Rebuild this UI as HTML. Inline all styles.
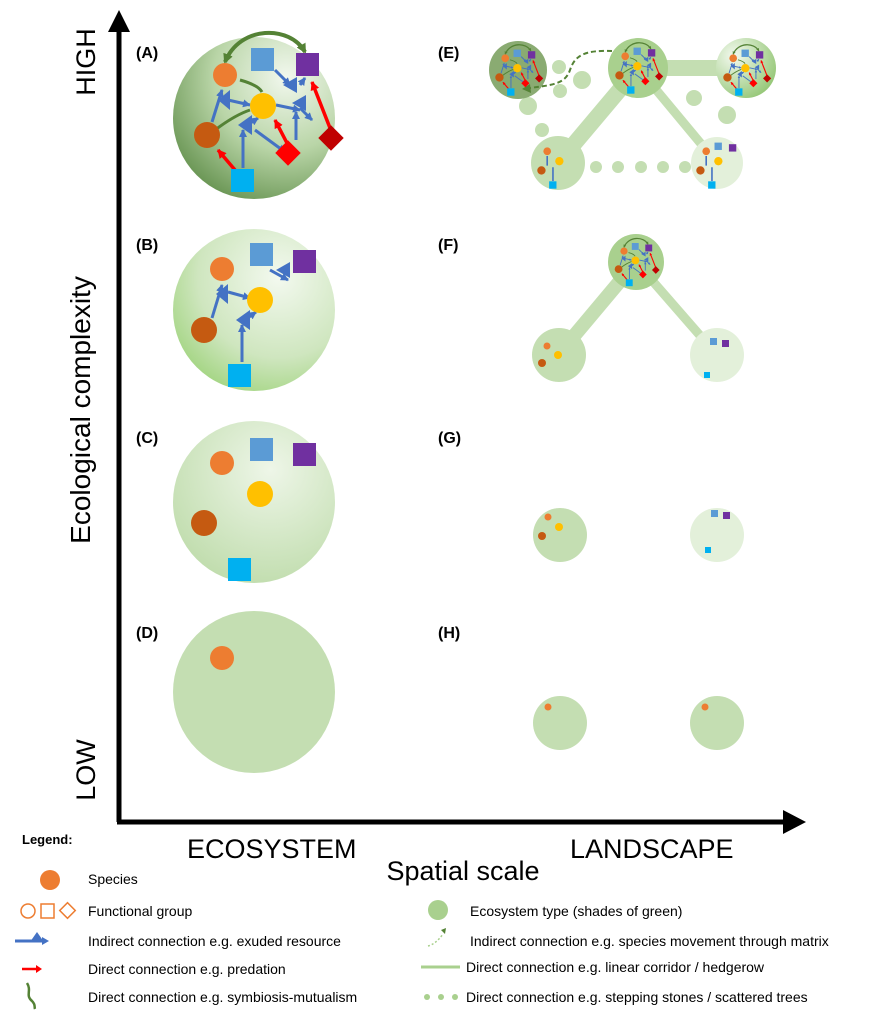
<!DOCTYPE html>
<html><head><meta charset="utf-8"><style>body{margin:0;background:#fff}svg{display:block}text{font-family:"Liberation Sans",sans-serif}</style></head>
<body>
<svg width="876" height="1023" viewBox="0 0 876 1023" xmlns="http://www.w3.org/2000/svg">
<defs>
<radialGradient id="gA" cx="0.7" cy="0.25" r="0.9"><stop offset="0" stop-color="#f2f8ee"/><stop offset="0.5" stop-color="#b9d5a7"/><stop offset="1" stop-color="#5b8a45"/></radialGradient>
<radialGradient id="gB" cx="0.65" cy="0.3" r="0.9"><stop offset="0" stop-color="#f3f9ef"/><stop offset="0.55" stop-color="#cfe6bf"/><stop offset="1" stop-color="#8fcd66"/></radialGradient>
<radialGradient id="gC" cx="0.6" cy="0.3" r="0.9"><stop offset="0" stop-color="#eef6e8"/><stop offset="1" stop-color="#b6d7a0"/></radialGradient>
<radialGradient id="gR" cx="0.3" cy="0.3" r="0.9"><stop offset="0" stop-color="#f3f9ef"/><stop offset="1" stop-color="#88c066"/></radialGradient>
<marker id="mb" markerUnits="userSpaceOnUse" markerWidth="8" markerHeight="8" refX="7" refY="4" orient="auto"><path d="M0,0L8,4L0,8z" fill="#4472c4"/></marker>
<marker id="mr" markerUnits="userSpaceOnUse" markerWidth="9" markerHeight="9" refX="8" refY="4.5" orient="auto"><path d="M0,0L9,4.5L0,9z" fill="#f00"/></marker>
<marker id="mg" markerUnits="userSpaceOnUse" markerWidth="10" markerHeight="10" refX="8" refY="5" orient="auto-start-reverse"><path d="M0,0L10,5L0,10z" fill="#548235"/></marker>
<g id="net">
<path d="M225,62 C240,25 290,25 305,52" stroke="#548235" stroke-width="4" fill="none" marker-end="url(#mg)" marker-start="url(#mg)"/>
<path d="M240,80 Q258,85 262,92" stroke="#548235" stroke-width="3" fill="none"/>
<path d="M215,130 Q235,115 250,110" stroke="#548235" stroke-width="3" fill="none"/>
<g stroke="#4472c4" stroke-width="3" fill="none" marker-end="url(#mb)">
<line x1="212" y1="122" x2="222" y2="90"/><line x1="228" y1="100" x2="250" y2="105"/><line x1="243" y1="168" x2="243" y2="130"/><line x1="243" y1="128" x2="258" y2="118"/><line x1="255" y1="130" x2="285" y2="152"/><line x1="276" y1="105" x2="300" y2="110"/><line x1="296" y1="140" x2="296" y2="112"/><line x1="300" y1="108" x2="312" y2="120"/><line x1="275" y1="70" x2="290" y2="85"/><line x1="300" y1="85" x2="305" y2="78"/>
</g>
<g fill="#4472c4"><path d="M218,100l12,-10 v20z"/><path d="M238,125l14,-10v20z"/><path d="M283,85l14,-8v16z"/><path d="M292,103l14,-8v16z"/></g>
<g stroke="#f00" stroke-width="3.5" marker-end="url(#mr)"><line x1="235" y1="170" x2="218" y2="150"/><line x1="288" y1="145" x2="275" y2="120"/><line x1="330" y1="128" x2="312" y2="82"/></g>
<circle cx="225" cy="75" r="12" fill="#ed7d31"/>
<rect x="251" y="48" width="23" height="23" fill="#5b9bd5"/>
<rect x="296" y="53" width="23" height="23" fill="#7030a0"/>
<circle cx="263" cy="106" r="13" fill="#ffc000"/>
<circle cx="207" cy="135" r="13" fill="#c55a11"/>
<rect x="279" y="144" width="18" height="18" fill="#f00" transform="rotate(45 288 153)"/>
<rect x="322" y="129" width="18" height="18" fill="#c00000" transform="rotate(45 331 138)"/>
<rect x="231" y="169" width="23" height="23" fill="#00b0f0"/>
</g>
</defs>

<line x1="119" y1="30" x2="119" y2="822" stroke="#000" stroke-width="5"/>
<path d="M108,32 L119,10 L130,32z" fill="#000"/>
<line x1="117" y1="822" x2="785" y2="822" stroke="#000" stroke-width="5"/>
<path d="M783,810 L806,822 L783,834z" fill="#000"/>
<text transform="translate(95,62) rotate(-90)" font-size="27" text-anchor="middle">HIGH</text>
<text transform="translate(95,770) rotate(-90)" font-size="27" text-anchor="middle">LOW</text>
<text transform="translate(90,410) rotate(-90)" font-size="28" text-anchor="middle">Ecological complexity</text>

<g font-size="16" font-weight="bold">
<text x="136" y="58">(A)</text><text x="136" y="250">(B)</text><text x="136" y="443">(C)</text><text x="136" y="638">(D)</text>
<text x="438" y="58">(E)</text><text x="438" y="250">(F)</text><text x="438" y="443">(G)</text><text x="438" y="638">(H)</text>
</g>

<circle cx="254" cy="118" r="81" fill="url(#gA)"/>
<use href="#net"/>
<circle cx="254" cy="310" r="81" fill="url(#gB)"/>
<g stroke="#4472c4" stroke-width="3" fill="none" marker-end="url(#mb)">
<line x1="212" y1="318" x2="222" y2="285"/><line x1="228" y1="292" x2="250" y2="298"/><line x1="242" y1="362" x2="242" y2="325"/><line x1="242" y1="322" x2="256" y2="312"/><line x1="270" y1="270" x2="288" y2="280"/>
</g>
<g fill="#4472c4"><path d="M216,294l12,-10v20z"/><path d="M236,320l14,-10v20z"/><path d="M276,270l14,-8v16z"/></g>
<circle cx="222" cy="269" r="12" fill="#ed7d31"/><rect x="250" y="243" width="23" height="23" fill="#5b9bd5"/><rect x="293" y="250" width="23" height="23" fill="#7030a0"/><circle cx="260" cy="300" r="13" fill="#ffc000"/><circle cx="204" cy="330" r="13" fill="#c55a11"/><rect x="228" y="364" width="23" height="23" fill="#00b0f0"/>
<circle cx="254" cy="502" r="81" fill="url(#gC)"/>
<circle cx="222" cy="463" r="12" fill="#ed7d31"/><rect x="250" y="438" width="23" height="23" fill="#5b9bd5"/><rect x="293" y="443" width="23" height="23" fill="#7030a0"/><circle cx="260" cy="494" r="13" fill="#ffc000"/><circle cx="204" cy="523" r="13" fill="#c55a11"/><rect x="228" y="558" width="23" height="23" fill="#00b0f0"/>
<circle cx="254" cy="692" r="81" fill="#c4deb2"/>
<circle cx="222" cy="658" r="12" fill="#ed7d31"/>

<g fill="#c4deb2">
<line x1="638" y1="68" x2="746" y2="68" stroke="#c4deb2" stroke-width="16"/>
<line x1="638" y1="68" x2="558" y2="163" stroke="#c4deb2" stroke-width="16"/>
<line x1="638" y1="68" x2="717" y2="163" stroke="#c4deb2" stroke-width="9"/>
<circle cx="559" cy="67" r="7"/><circle cx="582" cy="80" r="9"/><circle cx="560" cy="91" r="7"/><circle cx="528" cy="106" r="9"/><circle cx="542" cy="130" r="7"/><circle cx="694" cy="98" r="8"/><circle cx="727" cy="115" r="9"/>
<circle cx="596" cy="167" r="6"/><circle cx="618" cy="167" r="6"/><circle cx="641" cy="167" r="6"/><circle cx="663" cy="167" r="6"/><circle cx="685" cy="167" r="6"/>
<circle cx="558" cy="163" r="27"/>
</g>
<circle cx="717" cy="163" r="26" fill="#e3f0da"/>
<circle cx="518" cy="70" r="29" fill="#8aab72"/>
<circle cx="638" cy="68" r="30" fill="#a9d08e"/>
<circle cx="746" cy="68" r="30" fill="url(#gR)"/>
<path d="M612,51 C585,50 575,55 570,70 C565,85 550,85 530,88" stroke="#548235" stroke-width="2" stroke-dasharray="5,3" fill="none"/>
<path d="M530,84 L522,89 L531,93z" fill="#548235"/>
<g transform="translate(518,72) scale(0.32) translate(-265,-118)"><use href="#net"/></g>
<g transform="translate(638,70) scale(0.32) translate(-265,-118)"><use href="#net"/></g>
<g transform="translate(746,72) scale(0.32) translate(-265,-118)"><use href="#net"/></g>
<g transform="translate(560,165) scale(0.32) translate(-265,-118)"><circle cx="225" cy="75" r="12" fill="#ed7d31"/><circle cx="263" cy="106" r="13" fill="#ffc000"/><circle cx="207" cy="135" r="13" fill="#c55a11"/><rect x="231" y="169" width="23" height="23" fill="#00b0f0"/><path d="M243,168V125M225,90V120" stroke="#4472c4" stroke-width="5"/></g>
<g transform="translate(719,165) scale(0.32) translate(-265,-118)"><circle cx="225" cy="75" r="12" fill="#ed7d31"/><rect x="251" y="48" width="23" height="23" fill="#5b9bd5"/><rect x="296" y="53" width="23" height="23" fill="#7030a0"/><circle cx="263" cy="106" r="13" fill="#ffc000"/><circle cx="207" cy="135" r="13" fill="#c55a11"/><rect x="231" y="169" width="23" height="23" fill="#00b0f0"/><path d="M243,168V125M225,90V120" stroke="#4472c4" stroke-width="5"/></g>

<line x1="636" y1="262" x2="558" y2="355" stroke="#c4deb2" stroke-width="14"/>
<line x1="636" y1="262" x2="717" y2="355" stroke="#c4deb2" stroke-width="9"/>
<circle cx="559" cy="355" r="27" fill="#c4deb2"/>
<circle cx="717" cy="355" r="27" fill="#e3f0da"/>
<circle cx="636" cy="262" r="28" fill="#a9d08e"/>
<g transform="translate(636,264) scale(0.3) translate(-265,-118)"><use href="#net"/></g>
<circle cx="547" cy="346" r="3.5" fill="#ed7d31"/><circle cx="558" cy="355" r="4" fill="#ffc000"/><circle cx="542" cy="363" r="4" fill="#c55a11"/>
<rect x="710" y="338" width="7" height="7" fill="#5b9bd5"/><rect x="722" y="340" width="7" height="7" fill="#7030a0"/><rect x="704" y="372" width="6" height="6" fill="#00b0f0"/>
<circle cx="560" cy="535" r="27" fill="#c4deb2"/><circle cx="717" cy="535" r="27" fill="#e3f0da"/>
<circle cx="548" cy="517" r="3.5" fill="#ed7d31"/><circle cx="559" cy="527" r="4" fill="#ffc000"/><circle cx="542" cy="536" r="4" fill="#c55a11"/>
<rect x="711" y="510" width="7" height="7" fill="#5b9bd5"/><rect x="723" y="512" width="7" height="7" fill="#7030a0"/><rect x="705" y="547" width="6" height="6" fill="#00b0f0"/>
<circle cx="560" cy="723" r="27" fill="#c4deb2"/><circle cx="717" cy="723" r="27" fill="#c4deb2"/>
<circle cx="548" cy="707" r="3.5" fill="#ed7d31"/><circle cx="705" cy="707" r="3.5" fill="#ed7d31"/>

<text x="187" y="858" font-size="27">ECOSYSTEM</text>
<text x="570" y="858" font-size="27">LANDSCAPE</text>
<text x="463" y="880" font-size="27" text-anchor="middle">Spatial scale</text>

<text x="22" y="844" font-size="13" font-weight="bold">Legend:</text>
<g font-size="14">
<circle cx="50" cy="880" r="10" fill="#ed7d31"/>
<text x="88" y="884">Species</text>
<circle cx="28" cy="911" r="7" fill="none" stroke="#ed7d31" stroke-width="1.5"/>
<rect x="41" y="904" width="13" height="14" fill="none" stroke="#ed7d31" stroke-width="1.5"/>
<rect x="62" y="905" width="11" height="11" fill="none" stroke="#ed7d31" stroke-width="1.5" transform="rotate(45 67.5 910.5)"/>
<text x="88" y="916">Functional group</text>
<line x1="15" y1="941" x2="42" y2="941" stroke="#4472c4" stroke-width="3"/><path d="M30,942 l7,-10 l7,10z" fill="#4472c4"/><path d="M42,937 l7,4 l-7,4z" fill="#4472c4"/>
<text x="88" y="946">Indirect connection e.g. exuded resource</text>
<line x1="22" y1="969" x2="37" y2="969" stroke="#f00" stroke-width="2.5"/><path d="M36,965l6,4l-6,4z" fill="#f00"/>
<text x="88" y="974">Direct connection e.g. predation</text>
<path d="M27,983 c5,8 -2,12 5,18 c4,4 2,6 3,8" stroke="#548235" stroke-width="2.5" fill="none"/>
<text x="88" y="1002">Direct connection e.g. symbiosis-mutualism</text>
<circle cx="438" cy="910" r="10" fill="#a9d08e"/>
<text x="470" y="916">Ecosystem type (shades of green)</text>
<path d="M428,946 q8,-2 15,-12" stroke="#a9d08e" stroke-width="1.5" stroke-dasharray="2,2" fill="none"/><path d="M441,930l5,-2l-1,6z" fill="#548235"/>
<text x="470" y="946">Indirect connection e.g. species movement through matrix</text>
<line x1="421" y1="967" x2="460" y2="967" stroke="#a9d08e" stroke-width="3"/>
<text x="466" y="972">Direct connection e.g. linear corridor / hedgerow</text>
<circle cx="427" cy="997" r="3" fill="#a9d08e"/><circle cx="441" cy="997" r="3" fill="#a9d08e"/><circle cx="455" cy="997" r="3" fill="#a9d08e"/>
<text x="466" y="1002">Direct connection e.g. stepping stones / scattered trees</text>
</g>
</svg>
</body></html>
